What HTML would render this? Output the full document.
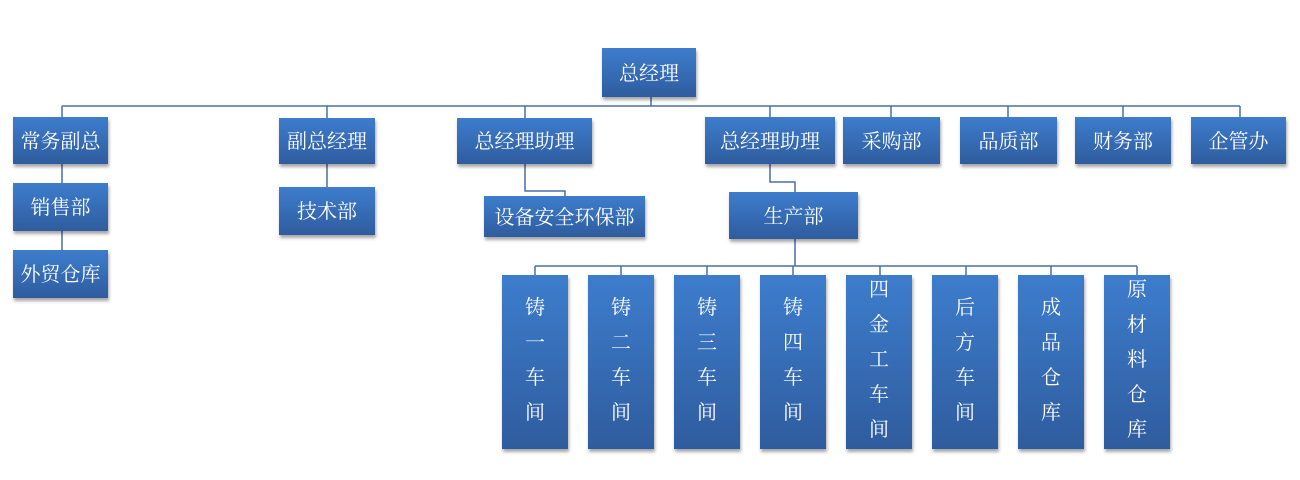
<!DOCTYPE html>
<html><head><meta charset="utf-8"><style>
body{margin:0;width:1300px;height:480px;background:#fff;position:relative;overflow:hidden;font-family:"Liberation Serif","Noto Serif CJK SC",serif}
.b{position:absolute;background:linear-gradient(#3d7dcd,#2f5c9e);color:#fff;font-size:20px;display:flex;align-items:center;justify-content:center;box-shadow:1px 3px 3px rgba(0,0,0,0.35);box-sizing:border-box;padding-bottom:3px}
.v{flex-direction:column;justify-content:center;line-height:35px;font-size:20px}
svg{position:absolute;left:0;top:0}
</style></head><body>
<svg width="1300" height="480"><g stroke="#4a6fa5" stroke-width="1.5" fill="none">
<path d="M651 97V106M62 106H1240"/>
<path d="M62 106V117M327 106V118M525 106V118M770 106V117M891 106V117M1008 106V117M1123 106V117M1240 106V117"/>
<path d="M62 164V183M62 231V250M327 164V187"/>
<path d="M525 164V191H565V196"/>
<path d="M770 164V182H795V192"/>
<path d="M795 239V266M535 266H1137"/>
<path d="M535 266V275M621 266V275M707 266V275M793 266V275M880 266V275M966 266V275M1051 266V275M1137 266V275"/>
</g></svg>
<div class="b" style="left:602px;top:48px;width:94px;height:49px">总经理</div>
<div class="b" style="left:13px;top:117px;width:95px;height:47px">常务副总</div>
<div class="b" style="left:13px;top:183px;width:95px;height:48px">销售部</div>
<div class="b" style="left:13px;top:250px;width:95px;height:48px">外贸仓库</div>
<div class="b" style="left:279px;top:118px;width:96px;height:46px">副总经理</div>
<div class="b" style="left:279px;top:187px;width:96px;height:48px">技术部</div>
<div class="b" style="left:457px;top:118px;width:135px;height:46px">总经理助理</div>
<div class="b" style="left:484px;top:196px;width:161px;height:41px">设备安全环保部</div>
<div class="b" style="left:705px;top:117px;width:130px;height:47px">总经理助理</div>
<div class="b" style="left:843px;top:117px;width:97px;height:47px">采购部</div>
<div class="b" style="left:960px;top:117px;width:97px;height:47px">品质部</div>
<div class="b" style="left:1075px;top:117px;width:96px;height:47px">财务部</div>
<div class="b" style="left:1191px;top:117px;width:95px;height:47px">企管办</div>
<div class="b" style="left:729px;top:192px;width:129px;height:47px">生产部</div>
<div class="b v" style="left:502px;top:275px;width:66px;height:174px"><span>铸</span><span>一</span><span>车</span><span>间</span></div>
<div class="b v" style="left:588px;top:275px;width:66px;height:174px"><span>铸</span><span>二</span><span>车</span><span>间</span></div>
<div class="b v" style="left:674px;top:275px;width:66px;height:174px"><span>铸</span><span>三</span><span>车</span><span>间</span></div>
<div class="b v" style="left:760px;top:275px;width:66px;height:174px"><span>铸</span><span>四</span><span>车</span><span>间</span></div>
<div class="b v" style="left:846px;top:275px;width:66px;height:174px"><span>四</span><span>金</span><span>工</span><span>车</span><span>间</span></div>
<div class="b v" style="left:932px;top:275px;width:66px;height:174px"><span>后</span><span>方</span><span>车</span><span>间</span></div>
<div class="b v" style="left:1018px;top:275px;width:66px;height:174px"><span>成</span><span>品</span><span>仓</span><span>库</span></div>
<div class="b v" style="left:1104px;top:275px;width:66px;height:174px"><span>原</span><span>材</span><span>料</span><span>仓</span><span>库</span></div>
</body></html>
